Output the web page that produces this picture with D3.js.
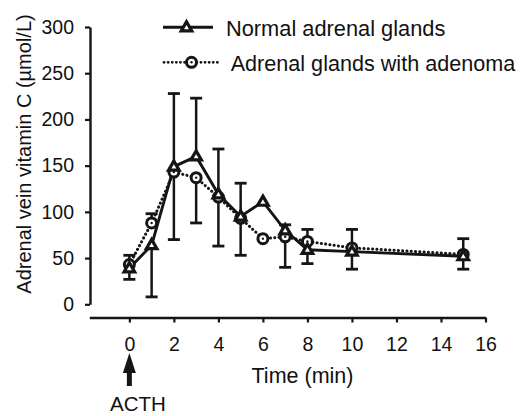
<!DOCTYPE html>
<html>
<head>
<meta charset="utf-8">
<script src="https://cdn.jsdelivr.net/npm/d3@7"></script>
<style>
  body { margin: 0; background: #fff; }
  svg { display: block; }
  text { font-family: "Liberation Sans", Arial, Helvetica, sans-serif; fill: #111; }
</style>
</head>
<body>
<svg id="chart" width="522" height="416"></svg>
<script>
// ---- data ----
const times = [0, 1, 2, 3, 4, 5, 6, 7, 8, 10, 15];
const normalMean = [39, 64, 149, 160, 119, 95, 111, 80, 59, 57, 52];
// one-sided whisker end (null = not drawn)
const normalWhisker = [27, 8, 228, 223, 168, 131, null, 86, 44, 38, 38];
const adenomaMean = [43, 88, 143, 137, 116, 93, 71, 73, 68, 61, 54];
const adenomaWhisker = [53, 98, 70, 88, 63, 53, null, 40, 81, 81, 71];
const xTicks = [0, 2, 4, 6, 8, 10, 12, 14, 16];
const yTicks = [0, 50, 100, 150, 200, 250, 300];
const seriesNames = ["Normal adrenal glands", "Adrenal glands with adenoma"];
const yTitle = "Adrenal vein vitamin C (\u00b5mol/L)";
const xTitle = "Time (min)";
const markerLabel = "ACTH";

// ---- layout ----
const svg = d3.select("#chart");
const ink = "#151515";
const x = d3.scaleLinear().domain([-1.8, 16]).range([89.3, 485.5]);
const y = d3.scaleLinear().domain([0, 300]).range([304.3, 27]);
const xAxisY = 317.5;
const yAxisX = 90;

// y axis
const gy = svg.append("g").attr("transform", `translate(${yAxisX},0)`)
  .call(d3.axisLeft(y).tickValues(yTicks).tickSize(5).tickSizeOuter(0).tickPadding(11));
gy.select(".domain").attr("stroke", ink).attr("stroke-width", 2.4);
gy.selectAll(".tick line").attr("stroke", ink).attr("stroke-width", 2.2);
gy.selectAll(".tick text").style("font-size", "19.5px").attr("fill", ink)
  .style("font-family", "'Liberation Sans', Arial, sans-serif");

// x axis
const gx = svg.append("g").attr("transform", `translate(0,${xAxisY})`)
  .call(d3.axisBottom(x).tickValues(xTicks).tickSize(5).tickSizeOuter(0).tickPadding(15));
gx.select(".domain").attr("stroke", ink).attr("stroke-width", 2.4);
gx.selectAll(".tick line").attr("stroke", ink).attr("stroke-width", 2.2);
gx.selectAll(".tick text").style("font-size", "19.5px").attr("fill", ink)
  .style("font-family", "'Liberation Sans', Arial, sans-serif");

// titles
svg.append("text")
  .attr("transform", `translate(31,154) rotate(-90)`)
  .attr("text-anchor", "middle").style("font-size", "20px").text(yTitle);
svg.append("text")
  .attr("x", 302.5).attr("y", 383).attr("text-anchor", "middle")
  .style("font-size", "21.5px").text(xTitle);

// ACTH arrow
const ax = x(0);
svg.append("path")
  .attr("d", `M${ax},353 L${ax + 6.5},373 L${ax + 2.5},373 L${ax + 2.5},386 L${ax - 2.5},386 L${ax - 2.5},373 L${ax - 6.5},373 Z`)
  .attr("fill", ink);
svg.append("text").attr("x", 138).attr("y", 411).attr("text-anchor", "middle")
  .style("font-size", "20.5px").text(markerLabel);

// data helpers
const normal = times.map((t, i) => ({ t, v: normalMean[i], w: normalWhisker[i] }));
const adenoma = times.map((t, i) => ({ t, v: adenomaMean[i], w: adenomaWhisker[i] }));
const line = d3.line().x(d => x(d.t)).y(d => y(d.v));

function whiskers(data) {
  const g = svg.append("g").attr("stroke", ink).attr("stroke-width", 2.5);
  data.filter(d => d.w !== null).forEach(d => {
    g.append("line").attr("x1", x(d.t)).attr("x2", x(d.t)).attr("y1", y(d.v)).attr("y2", y(d.w));
    g.append("line").attr("x1", x(d.t) - 6).attr("x2", x(d.t) + 6).attr("y1", y(d.w)).attr("y2", y(d.w))
      .attr("stroke-width", 2.8);
  });
}
whiskers(adenoma);
whiskers(normal);

// lines
svg.append("path").datum(adenoma).attr("d", line).attr("fill", "none")
  .attr("stroke", ink).attr("stroke-width", 3).attr("stroke-dasharray", "0.1,4.2")
  .attr("stroke-linecap", "round");
svg.append("path").datum(normal).attr("d", line).attr("fill", "none")
  .attr("stroke", ink).attr("stroke-width", 2.9);

const tri = d3.symbol().type(d3.symbolTriangle).size(48);
function circleMarker(g, cx, cy) {
  g.append("circle").attr("cx", cx).attr("cy", cy).attr("r", 5)
    .attr("fill", "#fff").attr("stroke", ink).attr("stroke-width", 3);
  g.append("circle").attr("cx", cx).attr("cy", cy).attr("r", 1.2).attr("fill", ink);
}
function triMarker(g, cx, cy) {
  g.append("path").attr("d", tri).attr("transform", `translate(${cx},${cy + 0.5})`)
    .attr("fill", "#fff").attr("stroke", ink).attr("stroke-width", 3.2).attr("stroke-linejoin", "miter");
}
const mg = svg.append("g");
adenoma.forEach(d => circleMarker(mg, x(d.t), y(d.v)));
normal.forEach(d => triMarker(mg, x(d.t), y(d.v)));

// legend
const lg = svg.append("g");
lg.append("line").attr("x1", 163).attr("x2", 213).attr("y1", 27.3).attr("y2", 27.3)
  .attr("stroke", ink).attr("stroke-width", 2.9);
triMarker(lg, 186.5, 27.3);
lg.append("text").attr("x", 226).attr("y", 36).style("font-size", "21.8px").text(seriesNames[0]);
lg.append("line").attr("x1", 164).attr("x2", 218).attr("y1", 62.3).attr("y2", 62.3)
  .attr("stroke", ink).attr("stroke-width", 2.8).attr("stroke-dasharray", "0.1,4")
  .attr("stroke-linecap", "round");
circleMarker(lg, 191.5, 62.3);
lg.append("text").attr("x", 230.7).attr("y", 71).style("font-size", "21.6px").text(seriesNames[1]);
</script>
</body>
</html>
